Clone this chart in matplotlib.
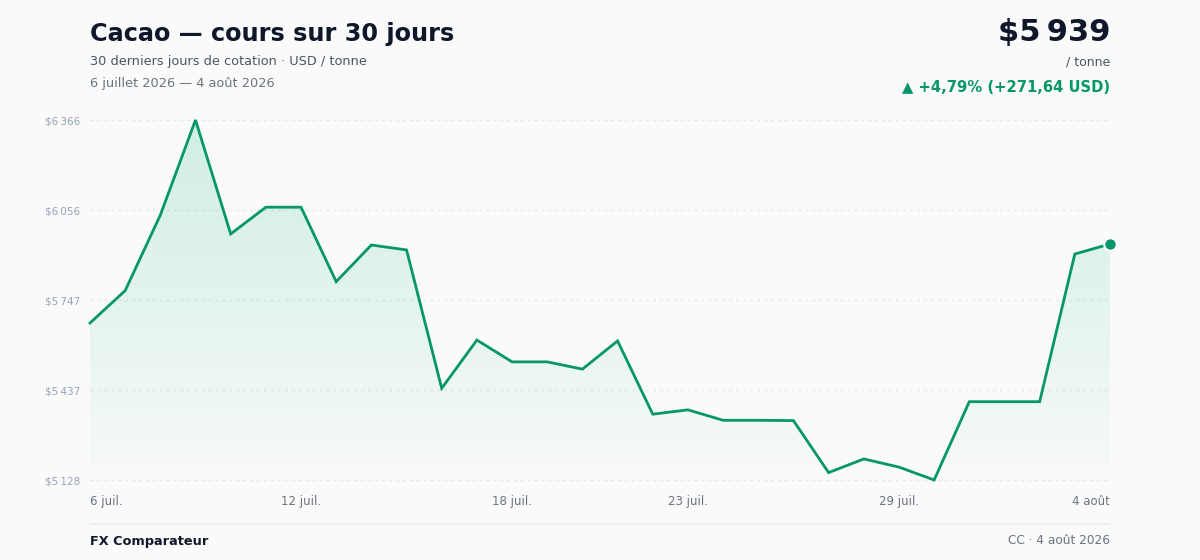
import numpy as np
import matplotlib as mpl
mpl.use("Agg")
import matplotlib.pyplot as plt
from matplotlib.colors import to_rgb

# data
days = ["6 juil.", "7 juil.", "8 juil.", "9 juil.", "10 juil.", "11 juil.",
        "12 juil.", "13 juil.", "14 juil.", "15 juil.", "16 juil.", "17 juil.",
        "18 juil.", "19 juil.", "20 juil.", "21 juil.", "22 juil.", "23 juil.",
        "24 juil.", "25 juil.", "26 juil.", "27 juil.", "28 juil.", "29 juil.",
        "30 juil.", "31 juil.", "1 août", "2 août", "3 août", "4 août"]
prices = [5667.66, 5779, 6039, 6366, 5974, 6066, 6066, 5810, 5936, 5919,
          5443, 5609, 5534, 5534, 5509, 5606, 5354, 5369, 5333, 5333,
          5332, 5153, 5200, 5172, 5127.6, 5397, 5397, 5397, 5905, 5939.3]
tick_idx = [0, 6, 12, 17, 23, 29]

GREEN = "#059669"
FILL = "#10b981"
BG = "#fafafa"
DARK = "#0f172a"
MUTED = "#4b5563"
SOFT = "#6b7280"
GRID = "#e5e7eb"


def money(v):
    return "$" + f"{v:,.0f}".replace(",", "\u202f")


def plot_main():
    plt.rcParams["font.family"] = ["DejaVu Sans"]
    fig = plt.figure(figsize=(12, 5.6), dpi=100, facecolor=BG)
    ax = fig.add_axes([90 / 1200, 1 - 480 / 560, 1020 / 1200, 360 / 560])
    ax.set_facecolor(BG)

    x = np.arange(len(prices))
    y = np.array(prices)
    lo, hi = y.min(), y.max()
    ax.set_xlim(0, len(prices) - 1)
    ax.set_ylim(lo, hi)

    # gridlines + y labels
    yt = np.linspace(lo, hi, 5)
    for v in yt:
        ax.axhline(v, color=GRID, lw=1, ls=(0, (2, 3)), zorder=0, clip_on=False)
    ax.set_yticks(yt)
    ax.set_yticklabels([money(v) for v in yt], fontsize=7.5, color="#94a3b8")
    ax.tick_params(axis="y", length=0, pad=7)

    # gradient fill under the line
    base = lo + (hi - lo) * 16 / 360
    poly = ax.fill_between(x, y, lo, color="none", lw=0)
    grad = np.zeros((256, 1, 4))
    grad[..., :3] = to_rgb(FILL)
    grad[:, 0, 3] = np.linspace(0.18, 0.02, 256)
    im = ax.imshow(grad, extent=[0, len(prices) - 1, base, hi],
                   aspect="auto", origin="upper", zorder=1)
    im.set_clip_path(poly.get_paths()[0], transform=ax.transData)

    ax.plot(x, y, color=GREEN, lw=2, zorder=3, clip_on=False,
            solid_joinstyle="miter")
    ax.plot(x[-1], y[-1], "o", ms=9, color=GREEN, mec="white", mew=1.5,
            zorder=4, clip_on=False)

    ax.set_xticks(tick_idx)
    ax.set_xticklabels([days[i] for i in tick_idx], fontsize=8.5, color=SOFT)
    ax.tick_params(axis="x", length=0, pad=11)
    labels = ax.get_xticklabels()
    labels[0].set_ha("left")
    labels[-1].set_ha("right")
    for s in ax.spines.values():
        s.set_visible(False)

    # header
    fig.text(90 / 1200, 1 - 34 / 560, "Cacao — cours sur 30 jours",
             fontsize=17.3, fontweight="bold", color=DARK, va="center")
    fig.text(90 / 1200, 1 - 61 / 560,
             "30 derniers jours de cotation · USD / tonne",
             fontsize=9.3, color=MUTED, va="center")
    fig.text(90 / 1200, 1 - 83 / 560, "6 juillet 2026 — 4 août 2026",
             fontsize=9.3, color=SOFT, va="center")

    chg = y[-1] - y[0]
    pct = chg / y[0] * 100
    fig.text(1110 / 1200, 1 - 32 / 560, money(y[-1]), fontsize=22,
             fontweight="bold", color=DARK, ha="right", va="center")
    fig.text(1110 / 1200, 1 - 62 / 560, "/ tonne", fontsize=9, color=MUTED,
             ha="right", va="center")
    chg_txt = "▲ +{0}% (+{1} USD)".format(f"{pct:.2f}".replace(".", ","),
                                         f"{chg:.2f}".replace(".", ","))
    fig.text(1110 / 1200, 1 - 87 / 560, chg_txt, fontsize=10.6,
             fontweight="bold", color=GREEN, ha="right", va="center")

    # footer
    fig.add_artist(plt.Line2D([90 / 1200, 1110 / 1200],
                              [1 - 524 / 560, 1 - 524 / 560],
                              color="#e8eaed", lw=1.2))
    fig.text(90 / 1200, 1 - 541 / 560, "FX Comparateur", fontsize=9.3,
             fontweight="bold", color="#111827", va="center")
    fig.text(1110 / 1200, 1 - 541 / 560, "CC · 4 août 2026", fontsize=8.7,
             color=SOFT, ha="right", va="center")

    fig.savefig("out.png", dpi=100, facecolor=BG)


if __name__ == '__main__':
    plot_main()
